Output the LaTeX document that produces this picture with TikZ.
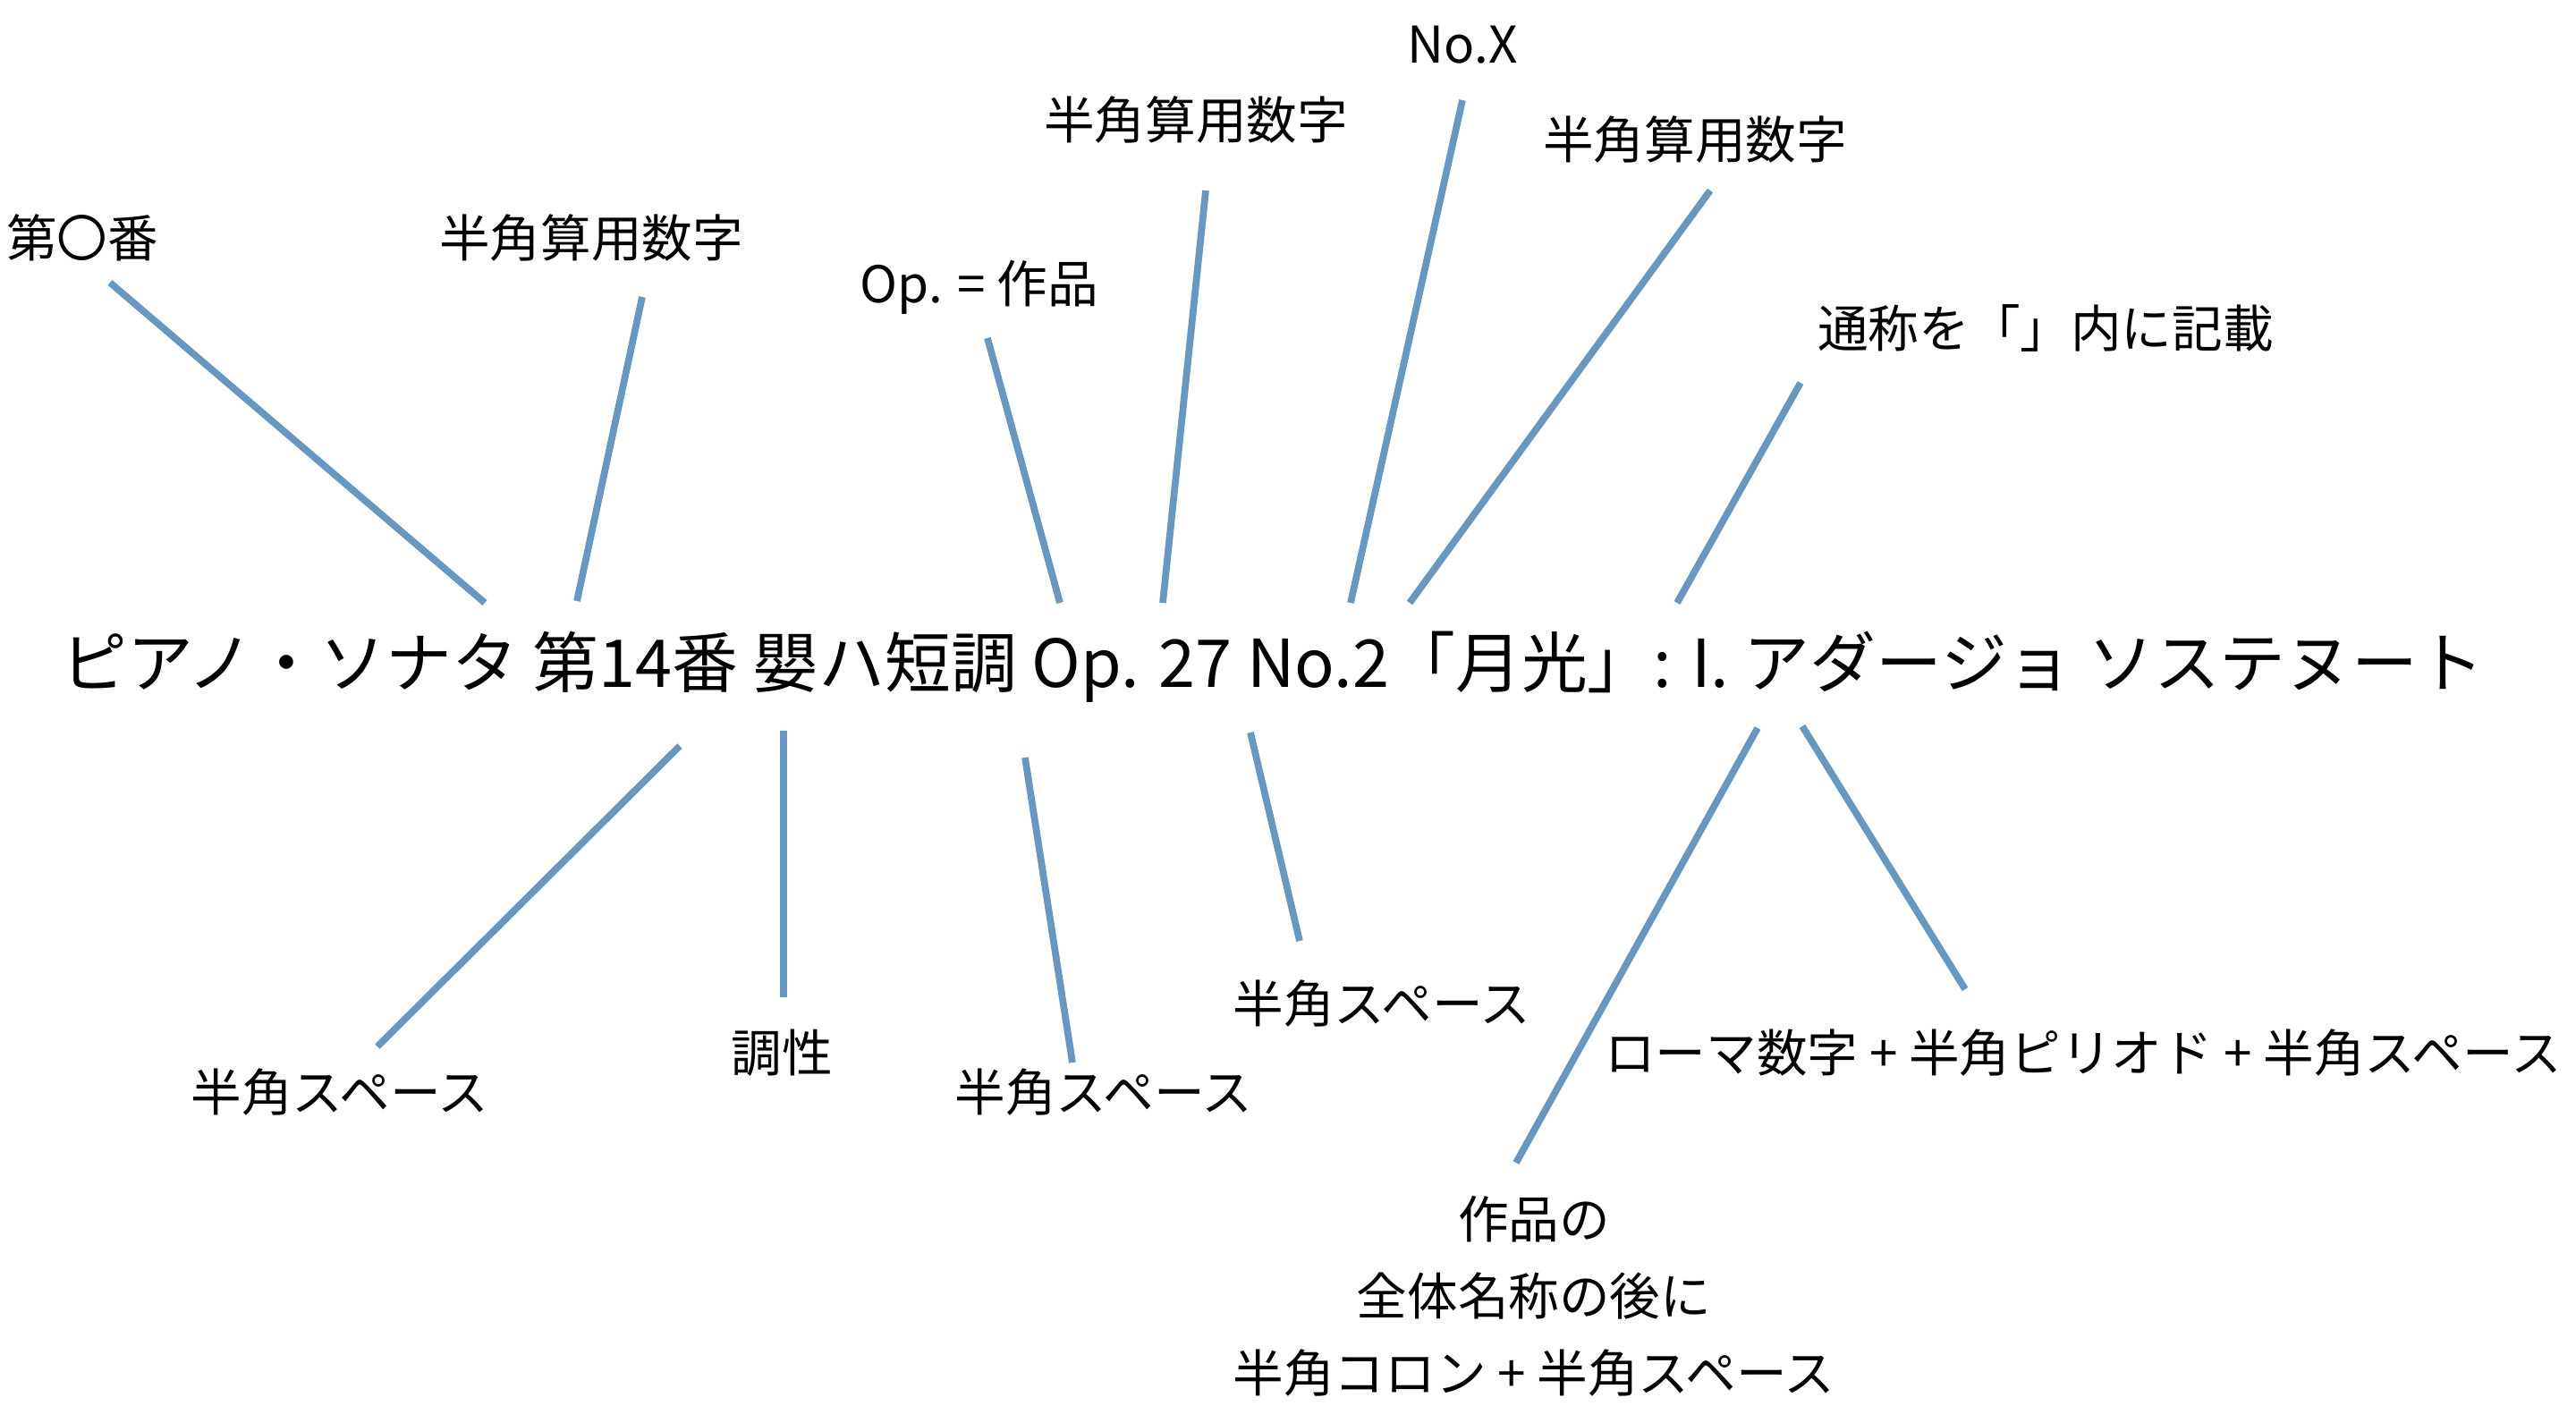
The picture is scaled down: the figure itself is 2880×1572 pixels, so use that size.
\documentclass[tikz,border=0pt]{standalone}
\usepackage{fontspec}
\setmainfont{Noto Sans CJK JP}
\usepackage{xcolor}
\definecolor{linkblue}{HTML}{6897C0}

\begin{document}
\begin{tikzpicture}[x=0.01cm,y=-0.01cm,
        lbl/.style={font=\fontsize{16.1}{24.5}\selectfont,inner sep=0pt,align=center},
        link/.style={linkblue,line width=2.2pt}]
        \useasboundingbox (0,0) rectangle (2880,1572);
        % title
        \node[font=\fontsize{21}{24}\selectfont,inner sep=0pt] (title) at (1423,746) {ピアノ・ソナタ 第14番 嬰ハ短調 Op. 27 No.2「月光」: I. アダージョ ソステヌート};
        % labels above
        \node[lbl] (ban) at (92,266) {第〇番};
        \node[lbl] (numA) at (661,266) {半角算用数字};
        \node[lbl] (op) at (1095,321) {Op. = 作品};
        \node[lbl] (numB) at (1337,134) {半角算用数字};
        \node[lbl] (nox) at (1635,50) {No.X};
        \node[lbl] (numC) at (1895,156) {半角算用数字};
        \node[lbl] (tsu) at (2287,367) {通称を「」内に記載};
        % labels below
        \node[lbl] (spA) at (380,1221) {半角スペース};
        \node[lbl] (key) at (874,1177) {調性};
        \node[lbl] (spB) at (1234,1221) {半角スペース};
        \node[lbl] (spC) at (1545,1122) {半角スペース};
        \node[lbl] (roman) at (2329,1177) {ローマ数字 + 半角ピリオド + 半角スペース};
        \node[lbl] (colon) at (1715,1449) {作品の\\全体名称の後に\\半角コロン + 半角スペース};
        % line ends
        \coordinate (a1) at (123,316);  \coordinate (b1) at (542,674);
        \coordinate (a2) at (718,332);  \coordinate (b2) at (645,672);
        \coordinate (a3) at (1104,378); \coordinate (b3) at (1185,674);
        \coordinate (a4) at (1348,213); \coordinate (b4) at (1300,674);
        \coordinate (a5) at (1635,112); \coordinate (b5) at (1510,674);
        \coordinate (a6) at (1912,213); \coordinate (b6) at (1576,674);
        \coordinate (a7) at (2013,428); \coordinate (b7) at (1875,674);
        \coordinate (a8) at (422,1170); \coordinate (b8) at (760,834);
        \coordinate (a9) at (876,1115); \coordinate (b9) at (876,817);
        \coordinate (a10) at (1199,1188); \coordinate (b10) at (1146,847);
        \coordinate (a11) at (1453,1052); \coordinate (b11) at (1398,819);
        \coordinate (a12) at (2197,1106); \coordinate (b12) at (2015,812);
        \coordinate (a13) at (1695,1300); \coordinate (b13) at (1965,814);
        \foreach \i in {1,...,13}
          \draw[link] (a\i) -- (b\i);
\end{tikzpicture}
\end{document}
